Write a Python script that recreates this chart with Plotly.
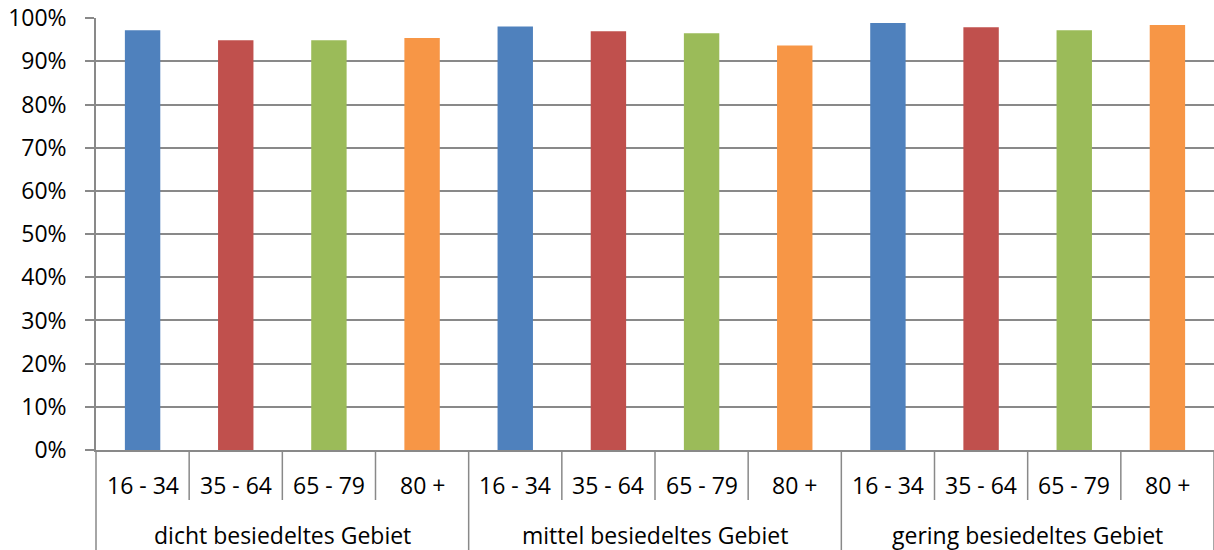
import plotly.graph_objects as go

areas = ["dicht besiedeltes Gebiet", "mittel besiedeltes Gebiet", "gering besiedeltes Gebiet"]
ages = ["16 - 34", "35 - 64", "65 - 79", "80 +"]
values = [
    [0.972, 0.949, 0.949, 0.954],
    [0.981, 0.970, 0.965, 0.937],
    [0.989, 0.979, 0.972, 0.984],
]
colors = ["#4F81BD", "#C0504D", "#9BBB59", "#F79646"]
y_ticks = [i / 10 for i in range(11)]

outer, inner, vals, cols = [], [], [], []
for a, row in zip(areas, values):
    for g, v, c in zip(ages, row, colors):
        outer.append(a)
        inner.append(g)
        vals.append(v)
        cols.append(c)

FONT = "Open Sans, sans-serif"
FS = 23
GRID = "#898989"
W, H = 1214, 550
M = dict(l=96, r=0, t=18, b=100)
PLOT_H = H - M["t"] - M["b"]

fig = go.Figure(go.Bar(x=[outer, inner], y=vals, marker=dict(color=cols, line=dict(width=0)),
                       width=0.38, hoverinfo="skip"))

n = len(vals)
ng = len(ages)
shapes, annotations = [], []
for k in range(n + 1):
    xp = k / n
    depth = 100 if k % ng == 0 else 50
    shapes.append(dict(type="line", xref="paper", yref="paper", x0=xp, x1=xp, y0=0,
                       y1=-depth / PLOT_H, line=dict(color=GRID, width=1.5)))
for k, lab in enumerate(inner):
    annotations.append(dict(xref="paper", yref="paper", x=(k + 0.5) / n, y=-35 / PLOT_H,
                            text=lab, showarrow=False, xanchor="center", yanchor="middle",
                            font=dict(family=FONT, size=FS, color="black")))
for j, a in enumerate(areas):
    annotations.append(dict(xref="paper", yref="paper", x=(j + 0.5) / len(areas), y=-85 / PLOT_H,
                            text=a, showarrow=False, xanchor="center", yanchor="middle",
                            font=dict(family=FONT, size=FS, color="black")))

fig.update_layout(
    width=W, height=H,
    margin=M,
    paper_bgcolor="white", plot_bgcolor="white",
    font=dict(family=FONT, size=FS, color="black"),
    showlegend=False,
    hovermode=False,
    shapes=shapes,
    annotations=annotations,
    xaxis=dict(type="multicategory", showline=True, linecolor=GRID, linewidth=1.5,
               showdividers=False, showticklabels=False, automargin=False,
               ticks="", showgrid=False),
    yaxis=dict(range=[0, 1.0005], tickvals=y_ticks, tickformat=".0%", showgrid=True, gridcolor=GRID,
               gridwidth=1.5, showline=True, linecolor=GRID, linewidth=1.5, ticks="outside",
               ticklen=9, tickcolor=GRID, tickwidth=1.5, zeroline=False, automargin=False,
               ticklabeloverflow="allow",
               ticklabelstandoff=14, tickfont=dict(family=FONT, size=FS, color="black")),
)

fig.write_html("out.html", config={"displayModeBar": False},
               post_script="document.body.style.margin='0';")
